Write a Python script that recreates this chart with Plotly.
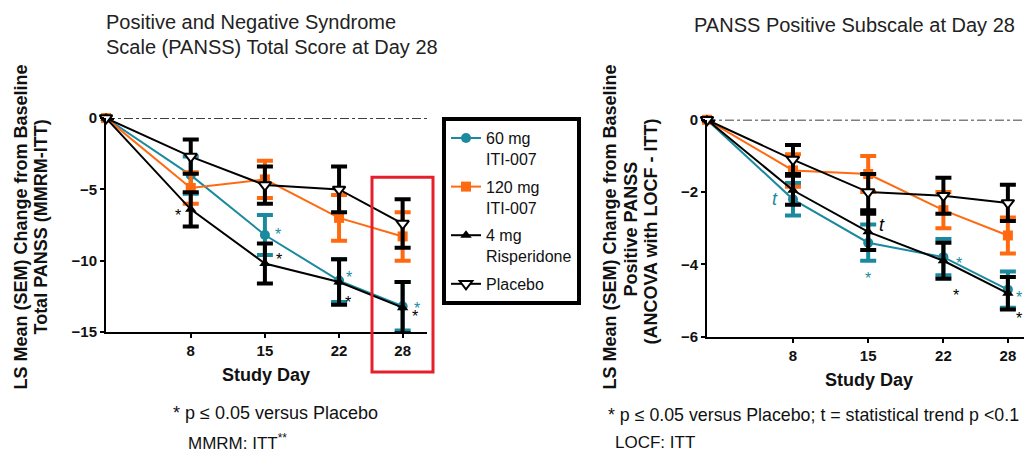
import plotly.graph_objects as go

# ---------------- data ----------------
days = [0, 8, 15, 22, 28]
tick_days = [8, 15, 22, 28]

series_names = ["60 mg<br>ITI-007", "120 mg<br>ITI-007", "4 mg<br>Risperidone", "Placebo"]

# PANSS total (left panel)
total_60 = [0, -4.0, -8.2, -11.4, -13.2]
total_60_sem = [None, 1.3, 1.4, 1.5, 1.7]
total_120 = [0, -4.9, -4.3, -7.0, -8.3]
total_120_sem = [None, 1.1, 1.3, 1.6, 1.7]
total_risp = [0, -6.4, -10.2, -11.5, -13.3]
total_risp_sem = [None, 1.2, 1.4, 1.6, 1.8]
total_pbo = [0, -2.7, -4.7, -5.0, -7.4]
total_pbo_sem = [None, 1.2, 1.3, 1.6, 1.7]

# PANSS positive subscale (right panel)
pos_60 = [0, -2.2, -3.4, -3.8, -4.7]
pos_60_sem = [None, 0.45, 0.5, 0.5, 0.5]
pos_120 = [0, -1.4, -1.5, -2.5, -3.2]
pos_120_sem = [None, 0.45, 0.5, 0.5, 0.5]
pos_risp = [0, -1.95, -3.1, -3.9, -4.8]
pos_risp_sem = [None, 0.4, 0.5, 0.5, 0.45]
pos_pbo = [0, -1.1, -2.0, -2.1, -2.3]
pos_pbo_sem = [None, 0.4, 0.5, 0.5, 0.5]

left_ticks = [0, -5, -10, -15]
right_ticks = [0, -2, -4, -6]

# ---------------- style ----------------
W, H = 1024, 455
TEAL = "#1B8A9E"
ORANGE = "#FF6A10"
BLACK = "#000000"
RED = "#E5202B"
FONT = "Liberation Sans, Arial, sans-serif"


def fx(p):
    return p / W


def ry(p):
    # target pixel row -> page pixel row (compensates the capture's vertical scaling)
    return (p - 10.3) / 0.959


def fy(p):
    return 1 - ry(p) / H


def fy_raw(p):
    return 1 - p / H


styles = [
    dict(color=TEAL, marker=dict(symbol="circle", size=10, color=TEAL)),
    dict(color=ORANGE, marker=dict(symbol="square", size=10, color=ORANGE)),
    dict(color=BLACK, marker=dict(symbol="triangle-up", size=10, color=BLACK)),
    dict(color=BLACK, marker=dict(symbol="triangle-down", size=11, color="white",
                                  line=dict(color=BLACK, width=2))),
]

fig = go.Figure()

left_data = [(total_60, total_60_sem), (total_120, total_120_sem),
             (total_risp, total_risp_sem), (total_pbo, total_pbo_sem)]
right_data = [(pos_60, pos_60_sem), (pos_120, pos_120_sem),
              (pos_risp, pos_risp_sem), (pos_pbo, pos_pbo_sem)]

for i, (vals, sem) in enumerate(left_data):
    st = styles[i]
    fig.add_trace(go.Scatter(
        x=days, y=vals, mode="lines+markers", name=series_names[i],
        legendgroup=f"g{i}", showlegend=True,
        line=dict(color=st["color"], width=2), marker=st["marker"],
        error_y=dict(type="data", array=sem, color=st["color"], thickness=4, width=8),
        cliponaxis=False, xaxis="x", yaxis="y"))

for i, (vals, sem) in enumerate(right_data):
    st = styles[i]
    fig.add_trace(go.Scatter(
        x=days, y=vals, mode="lines+markers", name=series_names[i],
        legendgroup=f"g{i}", showlegend=False,
        line=dict(color=st["color"], width=2), marker=st["marker"],
        error_y=dict(type="data", array=sem, color=st["color"], thickness=4, width=8),
        cliponaxis=False, xaxis="x2", yaxis="y2"))

left_xmax = 30.3
right_xmax = 29.5

axis_common = dict(showgrid=False, zeroline=False, showline=True, linecolor=BLACK,
                   linewidth=2, ticks="outside", ticklen=4, tickwidth=2, tickcolor=BLACK,
                   tickfont=dict(family=FONT, size=15, color="#111", weight="bold"))

fig.update_layout(
    width=W, height=H, autosize=False,
    margin=dict(l=0, r=0, t=0, b=0),
    paper_bgcolor="white", plot_bgcolor="white",
    font=dict(family=FONT, color="#111"),
    xaxis=dict(domain=[fx(106), fx(427)], range=[0, left_xmax], tickvals=tick_days,
               anchor="y", **axis_common),
    yaxis=dict(domain=[fy(332), fy(119)], range=[-15, 0], tickvals=left_ticks,
               anchor="x", **axis_common),
    xaxis2=dict(domain=[fx(707), 1.0], range=[0, right_xmax], tickvals=tick_days,
                anchor="y2", **axis_common),
    yaxis2=dict(domain=[fy(336.7), fy(120.7)], range=[-6, 0], tickvals=right_ticks,
                anchor="x2", **axis_common),
    legend=dict(x=fx(442), y=fy(118), xanchor="left", yanchor="top",
                bordercolor=BLACK, borderwidth=4, bgcolor="white",
                font=dict(family=FONT, size=16, color="#111"),
                valign="top", tracegroupgap=4, itemwidth=30),
    showlegend=True,
)

# zero reference lines (dash-dot)
fig.add_shape(type="line", xref="x", yref="y", x0=0, x1=left_xmax, y0=0, y1=0,
              line=dict(color=BLACK, width=1.5, dash="dashdot"), layer="below")
fig.add_shape(type="line", xref="x2", yref="y2", x0=0, x1=right_xmax, y0=0, y1=0,
              line=dict(color=BLACK, width=1.5, dash="dashdot"), layer="below")

# red highlight box around Day 28
fig.add_shape(type="rect", xref="paper", yref="paper",
              x0=fx(372), x1=fx(433), y0=fy(372), y1=fy(178),
              line=dict(color=RED, width=3), fillcolor="rgba(0,0,0,0)")

ann = []


def text_at(txt, px, yfrac, size, bold=False, angle=0, xanchor="center", color="#111"):
    if bold:
        txt = f"<b>{txt}</b>"
    ann.append(dict(text=txt, x=fx(px), y=yfrac, xref="paper", yref="paper",
                    xanchor=xanchor, yanchor="middle", textangle=angle, showarrow=False,
                    font=dict(family=FONT, size=size, color=color)))


# titles
text_at("Positive and Negative Syndrome", 104, fy(23), 20, xanchor="left", color="#222")
text_at("Scale (PANSS) Total Score at Day 28", 104, fy(48), 20, xanchor="left", color="#222")
text_at("PANSS Positive Subscale at Day 28", 692, fy(26), 20, xanchor="left", color="#222")

# y axis titles
text_at("LS Mean (SEM) Change from Baseline", 21, fy(228), 18, bold=True, angle=-90)
text_at("Total PANSS (MMRM-ITT)", 41, fy(228), 18, bold=True, angle=-90)
text_at("LS Mean (SEM) Change from Baseline", 610, fy(228), 18, bold=True, angle=-90)
text_at("Positive PANSS", 631, fy(230), 18, bold=True, angle=-90)
text_at("(ANCOVA with LOCF - ITT)", 651, fy(232), 18, bold=True, angle=-90)

# x axis titles
text_at("Study Day", 266, fy(375), 18, bold=True)
text_at("Study Day", 869, fy(380), 18, bold=True)

# footnotes
text_at("* p ≤ 0.05 versus Placebo", 171, fy(413), 18, xanchor="left")
text_at("MMRM: ITT<sup>**</sup>", 186, fy_raw(450), 17, xanchor="left")
text_at("* p ≤ 0.05 versus Placebo; t = statistical trend p <0.1", 606, fy(415), 17.8, xanchor="left")
text_at("LOCF: ITT", 613, fy_raw(450), 17, xanchor="left")

# significance marks: (panel, day index, series values, text, color, xshift, yshift)
marks = [
    ("", 1, total_risp, "*", BLACK, -13, -6),
    ("", 2, total_60, "*", TEAL, 13, 0),
    ("", 2, total_risp, "*", BLACK, 14, 4),
    ("", 3, total_60, "*", TEAL, 10, 3),
    ("", 3, total_risp, "*", BLACK, 9, -20),
    ("", 4, total_60, "*", TEAL, 14, -2),
    ("", 4, total_risp, "*", BLACK, 12, -9),
    ("2", 1, pos_60, "<i>t</i>", TEAL, -18, 0),
    ("2", 2, pos_risp, "<i>t</i>", BLACK, 14, 7),
    ("2", 2, pos_60, "*", TEAL, 0, -36),
    ("2", 3, pos_60, "*", TEAL, 16, -6),
    ("2", 3, pos_risp, "*", BLACK, 13, -35),
    ("2", 4, pos_60, "*", TEAL, 11, -8),
    ("2", 4, pos_risp, "*", BLACK, 11, -25),
]
for panel, idx, vals, txt, col, dx, dy in marks:
    ann.append(dict(text=txt, x=days[idx], y=vals[idx], xref="x" + panel, yref="y" + panel,
                    xshift=dx, yshift=dy, showarrow=False,
                    font=dict(family=FONT, size=16 if txt == "*" else 18, color=col)))

fig.update_layout(annotations=ann)

fig.write_html("out.html", config={"displayModeBar": False},
               post_script="document.body.style.margin='0';")
